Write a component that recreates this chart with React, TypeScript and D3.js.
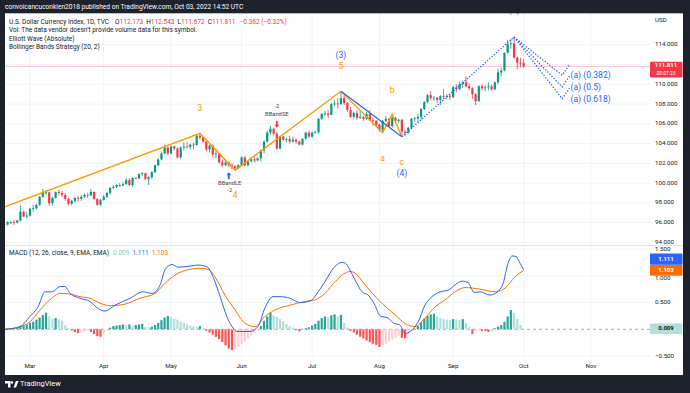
import React, { useRef, useEffect } from 'react';
import * as d3 from 'd3';

// daily bars, first one is Feb 17 2022 (bar index -8, Mar 1 = 0)
const FIRST_BAR = -8;

// [open, high, low, close]
const candles: number[][] = [
  [95.85, 96.05, 95.65, 95.8], [95.8, 96.15, 95.7, 96.05], [96.05, 96.15, 95.85, 96.05], [96.05, 96.25, 95.75, 96.0],
  [96.0, 96.3, 95.9, 96.2], [96.2, 97.75, 96.1, 97.1], [97.1, 97.2, 96.55, 96.6], [96.6, 97.1, 96.4, 96.7],
  // Mar
  [96.7, 97.5, 96.6, 97.4], [97.4, 97.8, 97.1, 97.45], [97.45, 97.9, 97.3, 97.8], [97.8, 98.7, 97.7, 98.6],
  [98.6, 99.4, 98.5, 99.0], [99.0, 99.3, 98.8, 99.05], [99.05, 99.1, 97.7, 97.95], [97.95, 98.6, 97.7, 98.5],
  [98.5, 99.15, 98.4, 99.1], [99.1, 99.3, 98.75, 99.0], [99.0, 99.2, 98.6, 98.8], [98.8, 99.0, 98.2, 98.4],
  [98.4, 98.5, 97.7, 97.9], [97.9, 98.3, 97.75, 98.2], [98.2, 98.6, 98.0, 98.5], [98.5, 98.7, 98.1, 98.4],
  [98.4, 98.8, 98.2, 98.6], [98.6, 98.95, 98.5, 98.8], [98.8, 99.0, 98.5, 98.75], [98.75, 99.4, 98.7, 99.1],
  [99.1, 99.15, 98.3, 98.4], [98.4, 98.5, 97.7, 97.8], [97.8, 98.4, 97.7, 98.3],
  // Apr
  [98.3, 98.8, 98.2, 98.6], [98.6, 99.1, 98.5, 99.0], [99.0, 99.6, 98.8, 99.5], [99.5, 99.8, 99.4, 99.6],
  [99.6, 99.9, 99.5, 99.8], [99.8, 100.0, 99.6, 99.75], [99.75, 100.1, 99.7, 99.9], [99.9, 100.5, 99.8, 100.3],
  [100.3, 100.5, 99.7, 99.8], [99.8, 100.6, 99.6, 100.5], [100.5, 100.6, 100.4, 100.45], [100.45, 101.0, 100.4, 100.9],
  [100.9, 101.1, 100.7, 101.0], [101.0, 101.0, 100.3, 100.4], [100.4, 100.7, 99.8, 100.6], [100.6, 101.2, 100.4, 101.1],
  [101.1, 101.9, 101.0, 101.8], [101.8, 102.5, 101.7, 102.4], [102.4, 103.2, 102.3, 103.0], [103.0, 103.9, 102.9, 103.6],
  [103.6, 103.7, 102.8, 103.0],
  // May
  [103.0, 103.8, 102.9, 103.7], [103.7, 103.8, 103.3, 103.5], [103.5, 103.6, 102.5, 102.6], [102.6, 103.7, 102.4, 103.6],
  [103.6, 104.1, 103.3, 103.7], [103.7, 104.2, 103.5, 103.65], [103.65, 104.0, 103.4, 103.9], [103.9, 104.1, 103.4, 103.85],
  [103.85, 104.9, 103.8, 104.8], [104.8, 105.04, 104.4, 104.6], [104.6, 104.7, 104.1, 104.2], [104.2, 104.3, 103.2, 103.4],
  [103.4, 103.9, 103.1, 103.8], [103.8, 103.9, 102.6, 102.9], [102.9, 103.2, 102.5, 103.0], [103.0, 103.0, 102.0, 102.1],
  [102.1, 102.4, 101.6, 101.8], [101.8, 102.2, 101.7, 102.1], [102.1, 102.2, 101.6, 101.8], [101.8, 102.0, 101.4, 101.7],
  [101.7, 101.8, 101.3, 101.5], [101.5, 101.9, 101.4, 101.8],
  // Jun
  [101.8, 102.7, 101.7, 102.6], [102.6, 102.7, 101.7, 101.8], [101.8, 102.3, 101.7, 102.2], [102.2, 102.6, 102.1, 102.4],
  [102.4, 102.6, 102.1, 102.3], [102.3, 102.6, 102.2, 102.5], [102.5, 103.4, 102.2, 103.3], [103.3, 104.3, 103.0, 104.2],
  [104.2, 105.3, 104.1, 105.1], [105.1, 105.8, 104.9, 105.5], [105.5, 105.6, 104.8, 105.0], [105.0, 105.2, 103.4, 103.5],
  [103.5, 104.8, 103.4, 104.7], [104.7, 104.75, 104.3, 104.4], [104.4, 104.6, 104.1, 104.45], [104.45, 104.8, 104.0, 104.2],
  [104.2, 104.7, 104.1, 104.4], [104.4, 104.5, 104.0, 104.2], [104.2, 104.3, 103.8, 103.9], [103.9, 104.5, 103.8, 104.5],
  [104.5, 105.2, 104.4, 105.1], [105.1, 105.3, 104.6, 104.7],
  // Jul
  [104.7, 105.2, 104.6, 105.1], [105.1, 105.3, 105.0, 105.15], [105.15, 106.6, 105.0, 106.5], [106.5, 107.1, 106.4, 107.0],
  [107.0, 107.3, 106.8, 107.05], [107.05, 107.4, 106.6, 106.9], [106.9, 108.1, 106.9, 108.0], [108.0, 108.4, 107.8, 108.05],
  [108.05, 108.6, 107.6, 108.0], [108.0, 109.29, 107.9, 108.6], [108.6, 108.9, 107.9, 108.1], [108.1, 108.2, 107.2, 107.4],
  [107.4, 107.7, 106.6, 106.7], [106.7, 107.2, 106.5, 107.1], [107.1, 107.4, 106.4, 106.6], [106.6, 107.3, 106.5, 106.7],
  [106.7, 106.8, 106.3, 106.5], [106.5, 107.2, 106.4, 107.0], [107.0, 107.4, 106.3, 106.4], [106.4, 106.6, 105.8, 106.3],
  [106.3, 106.4, 105.7, 105.9],
  // Aug
  [105.9, 106.0, 105.2, 105.4], [105.4, 106.4, 105.1, 106.3], [106.3, 106.8, 106.2, 106.5], [106.5, 106.6, 105.7, 105.75],
  [105.75, 106.96, 105.6, 106.6], [106.6, 106.7, 106.2, 106.3], [106.3, 106.5, 106.1, 106.4], [106.4, 106.5, 104.69, 105.2],
  [105.2, 105.4, 104.75, 105.1], [105.1, 105.7, 105.0, 105.6], [105.6, 106.6, 105.5, 106.5], [106.5, 106.7, 106.2, 106.55],
  [106.55, 107.0, 106.1, 106.7], [106.7, 107.6, 106.4, 107.5], [107.5, 108.3, 107.4, 108.2], [108.2, 109.0, 108.1, 108.9],
  [108.9, 109.3, 108.4, 108.6], [108.6, 108.8, 108.3, 108.65], [108.65, 108.7, 108.1, 108.4], [108.4, 108.9, 107.9, 108.8],
  [108.8, 109.5, 108.5, 108.75], [108.75, 109.0, 108.5, 108.8], [108.8, 109.0, 108.4, 108.7],
  // Sep
  [108.7, 109.8, 108.6, 109.7], [109.7, 110.0, 109.2, 109.5], [109.5, 110.3, 109.4, 110.0], [110.0, 110.4, 109.6, 110.2],
  [110.2, 110.8, 109.7, 109.8], [109.8, 110.1, 109.4, 109.6], [109.6, 109.7, 108.5, 109.0], [109.0, 109.1, 107.9, 108.3],
  [108.3, 109.9, 108.2, 109.8], [109.8, 110.0, 109.4, 109.6], [109.6, 109.9, 109.3, 109.7], [109.7, 110.2, 109.4, 109.8],
  [109.8, 110.0, 109.4, 109.5], [109.5, 110.3, 109.4, 110.2], [110.2, 111.6, 110.0, 111.2], [111.2, 111.7, 110.8, 111.4],
  [111.4, 113.2, 111.3, 113.2], [113.2, 114.5, 113.1, 114.1], [114.1, 114.6, 113.6, 114.15], [114.15, 114.78, 112.6, 112.7],
  [112.7, 112.8, 111.5, 112.2], [112.2, 112.7, 111.7, 112.1],
  // Oct 3
  [112.173, 112.543, 111.672, 111.811],
];

// MACD histogram per bar, same bars as candles
const histogram = [
  0.01, 0.01, 0.02, 0.02, 0.03, 0.06, 0.07, 0.09,
  0.12, 0.14, 0.18, 0.22, 0.27, 0.31, 0.24, 0.2, 0.21, 0.19, 0.16, 0.08, 0.02, -0.02, -0.05, -0.07,
  -0.05, -0.04, -0.03, -0.05, -0.09, -0.13, -0.14,
  -0.08, -0.02, 0.03, 0.06, 0.07, 0.08, 0.09, 0.08, 0.09, 0.07, 0.08, 0.09, 0.1, 0.05, 0.04, 0.05,
  0.08, 0.12, 0.17, 0.22, 0.25,
  0.23, 0.2, 0.18, 0.14, 0.12, 0.09, 0.07, 0.06, 0.05, 0.06, 0.02, -0.03, -0.06, -0.1, -0.14, -0.18,
  -0.24, -0.3, -0.36, -0.39, -0.37, -0.33,
  -0.27, -0.22, -0.17, -0.12, -0.07, -0.02, 0.06, 0.16, 0.24, 0.31, 0.26, 0.23, 0.19, 0.15, 0.1, 0.06,
  0.03, -0.02, -0.04, 0.01, 0.02, 0.04,
  0.07, 0.1, 0.16, 0.21, 0.24, 0.23, 0.26, 0.28, 0.24, 0.27, 0.12, 0.03, -0.03, -0.06, -0.1, -0.14,
  -0.17, -0.21, -0.24, -0.27, -0.29,
  -0.33, -0.3, -0.27, -0.23, -0.19, -0.15, -0.12, -0.16, -0.17, -0.1, -0.04, 0.01, 0.06, 0.13, 0.2,
  0.25, 0.28, 0.29, 0.24, 0.21, 0.19, 0.18, 0.17,
  0.19, 0.18, 0.17, 0.19, 0.12, 0.04, -0.09, -0.03, -0.02, -0.03, -0.03, -0.05, -0.04, 0.02, 0.05,
  0.08, 0.14, 0.24, 0.36, 0.31, 0.19, 0.08,
  0.01,
];

// [bar, value] read along the MACD and signal curves
const macdPoints: [number, number][] = [
  [-7.8, 0.0], [-3.1, 0.05], [0, 0.24], [2.5, 0.42], [4.7, 0.7], [6.9, 0.7], [9.4, 0.8], [10.9, 0.8],
  [12.5, 0.67], [15.6, 0.58], [18.7, 0.52], [21.2, 0.39], [23.4, 0.34], [26.5, 0.45], [31.2, 0.58],
  [35.3, 0.7], [38.1, 0.67], [40.6, 0.83], [42.1, 1.11], [44.3, 1.21], [46.2, 1.16], [49.9, 1.18],
  [52.4, 1.2], [55.2, 1.17], [57.1, 0.98], [59.3, 0.61], [61.4, 0.24], [63.4, 0.02], [64.6, -0.04],
  [68.6, -0.04], [71.1, 0.05], [73.3, 0.4], [75.8, 0.61], [78, 0.61], [81.1, 0.58], [84.2, 0.5],
  [87.4, 0.53], [89.9, 0.7], [92, 0.89], [95.2, 1.18], [97.3, 1.25], [98.3, 1.24], [99.8, 1.11],
  [101.4, 0.92], [103.6, 0.7], [105.5, 0.64], [107.6, 0.45], [109.2, 0.25], [111.7, 0.21], [113.3, 0.12],
  [115.4, 0.08], [117, -0.08], [118.6, -0.04], [121.1, 0.14], [123.2, 0.45], [125.4, 0.61], [127.9, 0.7],
  [130.4, 0.73], [132.6, 0.83], [134.8, 0.9], [136.7, 0.87], [138.5, 0.69], [140.4, 0.7], [143.5, 0.64],
  [145.1, 0.67], [147.6, 0.86], [149.1, 1.23], [150.4, 1.37], [151.6, 1.36], [152.9, 1.23], [154, 1.111],
];

const signalPoints: [number, number][] = [
  [-7.8, 0.0], [-3.1, 0.05], [0, 0.14], [3.1, 0.36], [6.2, 0.55], [9.4, 0.67], [12.5, 0.66], [15.6, 0.61],
  [18.7, 0.58], [21.8, 0.49], [25, 0.44], [29.6, 0.47], [34.3, 0.58], [39, 0.67], [42.1, 0.86],
  [45.2, 1.01], [48.4, 1.1], [53, 1.14], [55.5, 1.12], [57.7, 0.98], [60.8, 0.64], [64, 0.36],
  [67.1, 0.11], [70.2, 0.05], [73.3, 0.24], [76.4, 0.36], [81.1, 0.45], [85.8, 0.52], [88.9, 0.55],
  [92, 0.67], [95.2, 0.89], [98.3, 1.05], [99.8, 1.08], [101.4, 1.05], [104.5, 0.83], [109.2, 0.52],
  [113.9, 0.27], [117, 0.11], [120.1, 0.05], [123.2, 0.21], [126.4, 0.42], [129.5, 0.55], [132.6, 0.7],
  [135.7, 0.78], [140.4, 0.75], [145.1, 0.7], [148.2, 0.77], [151.3, 0.98], [154, 1.103],
];

const monthNames = ['Mar', 'Apr', 'May', 'Jun', 'Jul', 'Aug', 'Sep', 'Oct', 'Nov'];
const monthBars = [0, 23, 44, 66, 88, 109, 132, 154, 175];

const priceTicks = [94, 96, 98, 100, 102, 104, 106, 108, 110, 112, 114];
const macdTicks = [1.5, 1.0, 0.5, -0.5];

// Elliott wave pivots [bar, price, label]
const minorWave: [number, number, string][] = [
  [-32, 94.63, ''], [53, 105.04, '3'], [64, 101.3, '4'], [97, 109.29, '5'],
  [110, 105.1, 'a'], [113, 106.96, 'b'], [116, 104.69, 'c'],
];
const majorWave: [number, number, string][] = [[97, 109.29, '(3)'], [116, 104.69, '(4)']];
const majorProjection: [number, number, string][] = [[116, 104.69, ''], [151, 114.78, '(5)']];
const fibRatios = [0.382, 0.5, 0.618];
const fibBar = 166;

// strategy signals [bar, price anchor, side]
const signals: [number, number, string][] = [[62, 101.6, 'LE'], [77, 105.2, 'SE']];

const lastClose = 111.811;
const lastMacd = 1.111;
const lastSignal = 1.103;
const lastHist = 0.009;

const W = 690;
const H = 393;
const FONT = 'Roboto, sans-serif';
const UP = '#089981';
const DOWN = '#f23645';
const BLUE = '#2962ff';
const ORANGE = '#ff9800';

const App = () => {
  const ref = useRef<SVGSVGElement>(null);

  useEffect(() => {
    if (!ref.current) return;
    const svg = d3.select(ref.current);
    svg.selectAll('*').remove();

    const x = d3.scaleLinear().domain([0, 175]).range([30, 591]);
    const yP = d3.scaleLinear().domain([94, 114]).range([242.3, 44.8]);
    const yM = d3.scaleLinear().domain([0, 1.5]).range([329.3, 249]);
    const left = 5;
    const plotRight = 650;

    svg.append('rect').attr('width', W).attr('height', H).attr('fill', '#1e222d');
    svg.append('rect').attr('x', 5).attr('y', 13).attr('width', 678).attr('height', 362)
      .attr('fill', '#ffffff');

    const defs = svg.append('defs');
    defs.append('clipPath').attr('id', 'pclip').append('rect')
      .attr('x', left).attr('y', 0).attr('width', plotRight - left).attr('height', 245);
    defs.append('clipPath').attr('id', 'mclip').append('rect')
      .attr('x', left).attr('y', 246).attr('width', plotRight - left).attr('height', 112);

    // grid
    const grid = svg.append('g').attr('stroke', '#f0f3fa').attr('stroke-width', 1);
    monthBars.forEach(b => {
      grid.append('line').attr('x1', x(b)).attr('x2', x(b)).attr('y1', 13).attr('y2', 358);
    });
    priceTicks.forEach(p => {
      grid.append('line').attr('x1', left).attr('x2', plotRight).attr('y1', yP(p)).attr('y2', yP(p));
    });
    macdTicks.forEach(m => {
      grid.append('line').attr('x1', left).attr('x2', plotRight).attr('y1', yM(m)).attr('y2', yM(m));
    });

    svg.append('line').attr('x1', left).attr('x2', 683).attr('y1', 245.5).attr('y2', 245.5)
      .attr('stroke', '#e0e3eb');

    // price pane
    const pane = svg.append('g').attr('clip-path', 'url(#pclip)');

    pane.append('line').attr('x1', left).attr('x2', plotRight)
      .attr('y1', yP(lastClose)).attr('y2', yP(lastClose))
      .attr('stroke', DOWN).attr('stroke-opacity', 0.3);

    const bars = pane.selectAll('g.candle').data(candles).enter().append('g');
    bars.append('line')
      .attr('x1', (d, i) => x(FIRST_BAR + i)).attr('x2', (d, i) => x(FIRST_BAR + i))
      .attr('y1', d => yP(d[1])).attr('y2', d => yP(d[2]))
      .attr('stroke', d => (d[3] >= d[0] ? UP : DOWN)).attr('stroke-width', 0.8);
    bars.append('rect')
      .attr('x', (d, i) => x(FIRST_BAR + i) - 1.1).attr('width', 2.2)
      .attr('y', d => yP(Math.max(d[0], d[3])))
      .attr('height', d => Math.max(0.8, Math.abs(yP(d[0]) - yP(d[3]))))
      .attr('fill', d => (d[3] >= d[0] ? UP : DOWN));

    const line = d3.line<number[]>().x(d => x(d[0])).y(d => yP(d[1]));
    pane.append('path').attr('d', line(minorWave)).attr('fill', 'none')
      .attr('stroke', ORANGE).attr('stroke-width', 1.4);
    pane.append('path').attr('d', line(majorWave)).attr('fill', 'none')
      .attr('stroke', BLUE).attr('stroke-width', 1.2);
    pane.append('path').attr('d', line(majorProjection)).attr('fill', 'none')
      .attr('stroke', BLUE).attr('stroke-width', 1.3).attr('stroke-dasharray', '1.3 1.7');

    const top = majorProjection[1];
    const base = majorProjection[0];
    fibRatios.forEach(r => {
      const target = top[1] - (top[1] - base[1]) * r;
      const pts = [[top[0], top[1]], [fibBar, target], [fibBar + 2.3, target + 1.08]];
      pane.append('path').attr('d', line(pts)).attr('fill', 'none')
        .attr('stroke', BLUE).attr('stroke-width', 1.3).attr('stroke-dasharray', '1.3 1.7');
      pane.append('text').attr('x', x(fibBar + 2.6)).attr('y', yP(target) + 1)
        .attr('dominant-baseline', 'middle').attr('font-size', 8.6).attr('fill', BLUE)
        .attr('font-family', FONT).text(`(a) (${r})`);
    });

    const waveLabel = (txt: string, bx: number, yy: number, color: string) => {
      pane.append('text').attr('x', x(bx)).attr('y', yy).attr('text-anchor', 'middle')
        .attr('dominant-baseline', 'middle').attr('font-size', 8.6).attr('fill', color)
        .attr('font-family', FONT).text(txt);
    };
    minorWave.forEach(([b, p, l]) => {
      if (!l) return;
      const off = l === '5' || l === '3' ? -24.5 : l === 'b' ? -24 : 26;
      waveLabel(l, b, yP(p) + off, ORANGE);
    });
    waveLabel(majorWave[0][2], majorWave[0][0], yP(majorWave[0][1]) - 36, BLUE);
    waveLabel(majorWave[1][2], majorWave[1][0], yP(majorWave[1][1]) + 37, BLUE);
    waveLabel(majorProjection[1][2], majorProjection[1][0], yP(majorProjection[1][1]) - 26.5, BLUE);

    // strategy markers
    signals.forEach(([b, p, side]) => {
      const cx = x(b);
      const cy = yP(p);
      const g = pane.append('g').attr('font-family', FONT).attr('font-size', 5.8)
        .attr('fill', '#434651').attr('text-anchor', 'middle');
      if (side === 'LE') {
        g.append('path').attr('d', `M${cx},${cy + 5} l-2.4,3 h1.5 v4 h1.8 v-4 h1.5 z`).attr('fill', BLUE);
        g.append('text').attr('x', cx + 1).attr('y', cy + 18).text('BBandLE');
        g.append('text').attr('x', cx + 1).attr('y', cy + 25).text('-2');
      } else {
        g.append('path').attr('d', `M${cx},${cy - 4} l-2.4,-3 h1.5 v-4 h1.8 v4 h1.5 z`).attr('fill', DOWN);
        g.append('text').attr('x', cx).attr('y', cy - 16).text('BBandSE');
        g.append('text').attr('x', cx).attr('y', cy - 24).text('-2');
      }
    });

    // macd pane
    const mp = svg.append('g').attr('clip-path', 'url(#mclip)');
    mp.append('line').attr('x1', left).attr('x2', plotRight).attr('y1', yM(0)).attr('y2', yM(0))
      .attr('stroke', '#9598a1').attr('stroke-dasharray', '3 3').attr('stroke-width', 0.8);
    mp.selectAll('rect.h').data(histogram).enter().append('rect')
      .attr('x', (d, i) => x(FIRST_BAR + i) - 1.1).attr('width', 2.2)
      .attr('y', d => Math.min(yM(d), yM(0)))
      .attr('height', d => Math.abs(yM(d) - yM(0)))
      .attr('fill', (d, i) => {
        const prev = i > 0 ? histogram[i - 1] : d;
        if (d >= 0) return d >= prev ? '#26a69a' : '#b2dfdb';
        return d <= prev ? '#ff5252' : '#ffcdd2';
      });
    const mline = d3.line<[number, number]>().x(d => x(d[0])).y(d => yM(d[1])).curve(d3.curveMonotoneX);
    mp.append('path').attr('d', mline(signalPoints)).attr('fill', 'none').attr('stroke', '#ff6d00')
      .attr('stroke-width', 1);
    mp.append('path').attr('d', mline(macdPoints)).attr('fill', 'none').attr('stroke', BLUE)
      .attr('stroke-width', 1);

    // axes text
    const axisText = svg.append('g').attr('font-family', FONT).attr('font-size', 6.2).attr('fill', '#131722');
    priceTicks.forEach(p => {
      axisText.append('text').attr('x', 655).attr('y', yP(p)).attr('dominant-baseline', 'middle')
        .text(p.toFixed(3));
    });
    macdTicks.forEach(m => {
      const yy = m === 1 ? yM(m) + 2.5 : yM(m);
      axisText.append('text').attr('x', 655).attr('y', yy).attr('dominant-baseline', 'middle')
        .text(m < 0 ? '\u2212' + Math.abs(m).toFixed(3) : m.toFixed(3));
    });
    axisText.append('text').attr('x', 655).attr('y', 20).attr('dominant-baseline', 'middle').text('USD');
    monthNames.forEach((m, i) => {
      axisText.append('text').attr('x', x(monthBars[i])).attr('y', 366).attr('text-anchor', 'middle')
        .attr('dominant-baseline', 'middle').text(m);
    });

    // value tags on the right scale
    const tag = (yy: number, h: number, fill: string, txt: string, color: string, ty: number) => {
      svg.append('rect').attr('x', 650).attr('y', yy).attr('width', 32.5).attr('height', h).attr('fill', fill)
        .attr('rx', 1);
      svg.append('text').attr('x', 666).attr('y', ty).attr('text-anchor', 'middle')
        .attr('dominant-baseline', 'middle').attr('font-family', FONT).attr('font-size', 6)
        .attr('font-weight', 'bold').attr('fill', color).text(txt);
    };
    const pY = yP(lastClose);
    tag(pY - 4.6, 15.8, DOWN, lastClose.toFixed(3), '#ffffff', pY - 0.8);
    svg.append('text').attr('x', 666).attr('y', pY + 7.6).attr('text-anchor', 'middle')
      .attr('dominant-baseline', 'middle').attr('font-family', FONT).attr('font-size', 4.9)
      .attr('fill', '#ffffff').text('08:07:23');
    const sY = yM(lastSignal);
    tag(sY - 5.6, 11.2, '#ff6d00', lastSignal.toFixed(3), '#ffffff', sY);
    tag(sY - 16.8, 11.2, BLUE, lastMacd.toFixed(3), '#ffffff', sY - 11.2);
    const hY = yM(lastHist);
    tag(hY - 5.3, 10.6, '#b2dfdb', lastHist.toFixed(3), '#131722', hY);

    // legends
    const lg = svg.append('g').attr('font-family', FONT).attr('font-size', 6.5).attr('fill', '#131722');
    const l1 = lg.append('text').attr('x', 9).attr('y', 22).attr('dominant-baseline', 'middle');
    l1.append('tspan').text('U.S. Dollar Currency Index, 1D, TVC');
    const ohlc = [['O', '112.173'], ['H', '112.543'], ['L', '111.672'], ['C', '111.811']];
    ohlc.forEach(([k, v], i) => {
      l1.append('tspan').attr('dx', i === 0 ? 6 : 3).text(k);
      l1.append('tspan').attr('fill', DOWN).text(v);
    });
    l1.append('tspan').attr('dx', 4).attr('fill', DOWN).text('\u22120.362 (\u22120.32%)');
    lg.append('text').attr('x', 9).attr('y', 30.7).attr('dominant-baseline', 'middle')
      .text('Vol: The data vendor doesn\u2019t provide volume data for this symbol.');
    lg.append('text').attr('x', 9).attr('y', 39).attr('dominant-baseline', 'middle').text('Elliott Wave (Absolute)');
    lg.append('text').attr('x', 9).attr('y', 47.3).attr('dominant-baseline', 'middle')
      .text('Bollinger Bands Strategy (20, 2)');
    const l2 = lg.append('text').attr('x', 9).attr('y', 253).attr('dominant-baseline', 'middle');
    l2.append('tspan').text('MACD (12, 26, close, 9, EMA, EMA)');
    l2.append('tspan').attr('dx', 4).attr('fill', '#80cbc4').text(lastHist.toFixed(3));
    l2.append('tspan').attr('dx', 3).attr('fill', BLUE).text(lastMacd.toFixed(3));
    l2.append('tspan').attr('dx', 3).attr('fill', '#ff6d00').text(lastSignal.toFixed(3));

    // header and footer bars
    svg.append('rect').attr('width', W).attr('height', 13.3).attr('fill', '#1e222d');
    svg.append('text').attr('x', 5).attr('y', 7).attr('dominant-baseline', 'middle')
      .attr('font-family', FONT).attr('font-size', 6.6).attr('fill', '#ffffff')
      .text('convoicancuconkien2018 published on TradingView.com, Oct 03, 2022 14:52 UTC');

    const logo = svg.append('g').attr('fill', '#ffffff');
    logo.append('path').attr('d', 'M5,381 h5.5 v6.5 h-2.5 v-4 h-3 z');
    logo.append('circle').attr('cx', 12).attr('cy', 382.5).attr('r', 1.3);
    logo.append('path').attr('d', 'M13.5,387.5 l2.4,-6.5 h2.6 l-2.4,6.5 z');
    svg.append('text').attr('x', 20).attr('y', 384.5).attr('dominant-baseline', 'middle')
      .attr('font-family', FONT).attr('font-size', 7.4).attr('fill', '#ffffff').text('TradingView');
  }, []);

  return (
    <svg ref={ref} width={W} height={H} style={{ position: 'absolute', left: 0, top: 0 }} />
  );
};

export default App;
